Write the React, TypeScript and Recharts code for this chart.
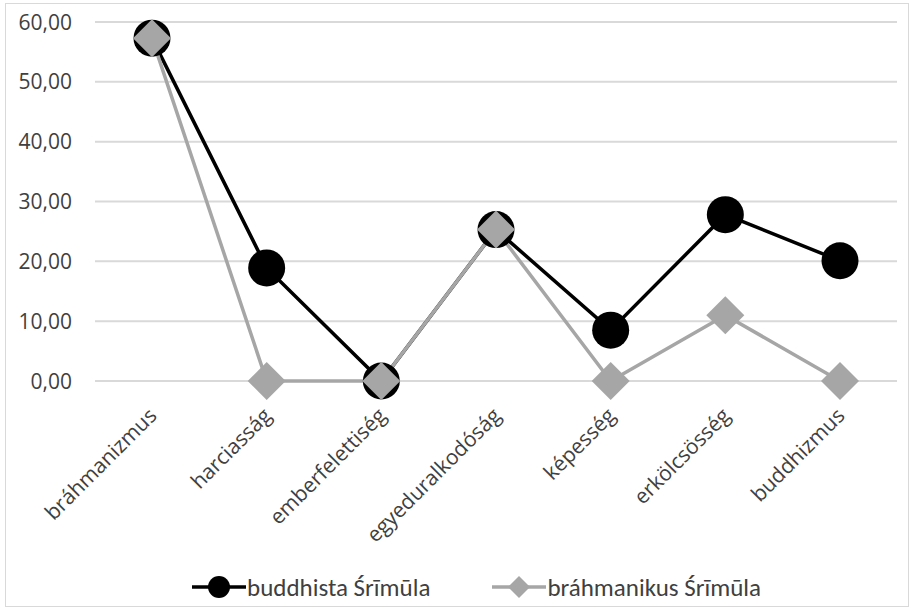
import React from 'react';
import { LineChart, Line, XAxis, YAxis, CartesianGrid, Legend } from 'recharts';

const categories = ['bráhmanizmus', 'harciasság', 'emberfelettiség', 'egyeduralkodóság', 'képesség', 'erkölcsösség', 'buddhizmus'];
const buddhista = [57.3, 18.9, 0, 25.3, 8.5, 27.8, 20.1];
const brahmanikus = [57.3, 0, 0, 25.3, 0, 11.0, 0];
const yTicks = [0, 10, 20, 30, 40, 50, 60];
const seriesNames = ['buddhista Śrīmūla', 'bráhmanikus Śrīmūla'];

const data = categories.map((c, i) => ({ name: c, b: buddhista[i], r: brahmanikus[i] }));

const AXIS_FONT = "'Open Sans', 'Segoe UI', sans-serif";
const LEGEND_FONT = "Calibri, Carlito, 'Liberation Sans', Arial, sans-serif";
const TEXT = '#404040';
const BLACK = '#000000';
const GRAY = '#a6a6a6';

const XTick = (props: any) => {
  const { x, y, payload } = props;
  return (
    <g transform={`translate(${x + 6},${y + 36})`}>
      <text textAnchor="end" transform="rotate(-45)" fontSize={21} fill={TEXT} fontFamily={AXIS_FONT}>
        {payload.value}
      </text>
    </g>
  );
};

const YTick = (props: any) => {
  const { x, y, payload } = props;
  return (
    <text x={x} y={y} dy="0.36em" textAnchor="end" fontSize={21} fill={TEXT} fontFamily={AXIS_FONT}>
      {Number(payload.value).toFixed(2).replace('.', ',')}
    </text>
  );
};

const CircleDot = (props: any) => {
  const { cx, cy, index } = props;
  if (cx == null || cy == null) return <g key={index} />;
  return <circle key={index} cx={cx} cy={cy} r={18.5} fill={BLACK} />;
};

const DiamondDot = (props: any) => {
  const { cx, cy, index } = props;
  if (cx == null || cy == null) return <g key={index} />;
  const s = 19;
  return <polygon key={index} points={`${cx},${cy - s} ${cx + s},${cy} ${cx},${cy + s} ${cx - s},${cy}`} fill={GRAY} />;
};

const LegendContent = () => (
  <div style={{ height: 40, display: 'flex', alignItems: 'center', paddingLeft: 192, fontFamily: LEGEND_FONT, fontSize: 25, color: TEXT }}>
    <svg width={54} height={26} style={{ marginRight: 1 }}>
      <line x1={0} y1={13} x2={54} y2={13} stroke={BLACK} strokeWidth={3.5} />
      <circle cx={27} cy={13} r={11} fill={BLACK} />
    </svg>
    <span>{seriesNames[0]}</span>
    <svg width={54} height={26} style={{ marginLeft: 62, marginRight: 1 }}>
      <line x1={0} y1={13} x2={54} y2={13} stroke={GRAY} strokeWidth={3.5} />
      <polygon points="27,2 38,13 27,24 16,13" fill={GRAY} />
    </svg>
    <span>{seriesNames[1]}</span>
  </div>
);

export default function App() {
  return (
    <div style={{ position: 'absolute', left: 0, top: 0, width: 914, height: 611, background: '#fff' }}>
      <div style={{ position: 'absolute', left: 5, top: 3, width: 902, height: 602, border: '1px solid #d9d9d9' }} />
      <div style={{ position: 'absolute', left: 0, top: 0 }}>
        <LineChart width={914} height={611} data={data} margin={{ top: 22, right: 17, bottom: 4, left: 0 }}>
          <CartesianGrid vertical={false} stroke="#d9d9d9" strokeWidth={2} />
          <XAxis
            dataKey="name"
            axisLine={false}
            tickLine={false}
            tickSize={0}
            tickMargin={0}
            height={186}
            interval={0}
            padding={{ left: 57, right: 57 }}
            tick={<XTick />}
          />
          <YAxis
            width={95}
            domain={[0, 60]}
            ticks={yTicks}
            axisLine={false}
            tickLine={false}
            tickSize={0}
            tickMargin={23}
            tick={<YTick />}
          />
          <Legend verticalAlign="bottom" height={40} content={<LegendContent />} />
          <Line
            type="linear"
            dataKey="b"
            name={seriesNames[0]}
            stroke={BLACK}
            strokeWidth={3.5}
            dot={<CircleDot />}
            activeDot={false}
            isAnimationActive={false}
          />
          <Line
            type="linear"
            dataKey="r"
            name={seriesNames[1]}
            stroke={GRAY}
            strokeWidth={3.5}
            dot={<DiamondDot />}
            activeDot={false}
            isAnimationActive={false}
          />
        </LineChart>
      </div>
    </div>
  );
}
